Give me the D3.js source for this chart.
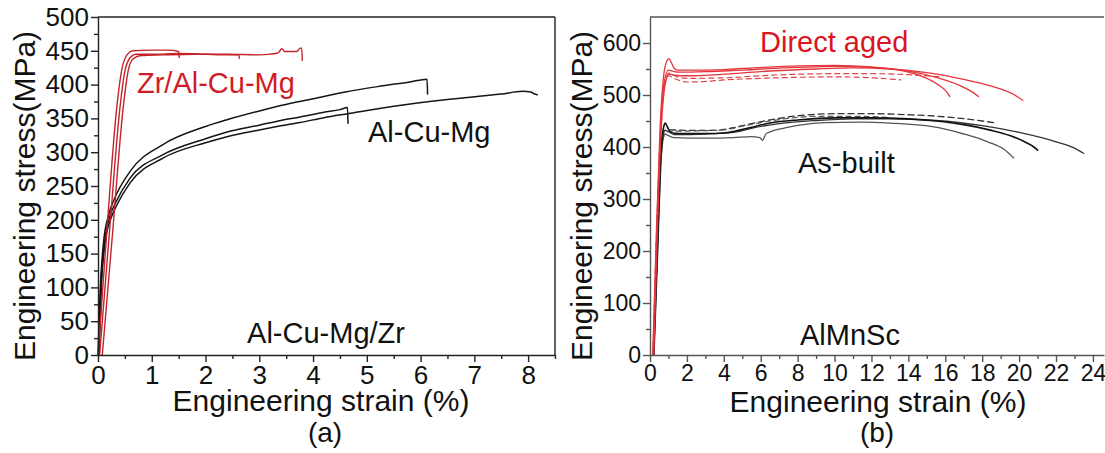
<!DOCTYPE html>
<html>
<head>
<meta charset="utf-8">
<script src="https://cdn.jsdelivr.net/npm/d3@7"></script>
<style>
  body { margin: 0; background: #fff; }
  svg { display: block; font-family: 'Liberation Sans', Arial, sans-serif; }
</style>
</head>
<body>
<svg width="1105" height="453"></svg>
<script>
// ---- panel (a): Al-Cu-Mg and Zr/Al-Cu-Mg, [strain %, stress MPa]
const aRed1 = [[0,0],[0.17,189],[0.35,367],[0.45,425],[0.55,445],[0.65,450],[1.0,451],[1.3,451],[1.5,449],[1.51,440]];
const aRed2 = [[0.03,0],[0.22,189],[0.41,367],[0.5,420],[0.6,440],[0.7,445],[1.0,445],[1.5,446],[2.0,445],[2.4,444],[2.62,444],[2.63,439]];
const aRed3 = [[0.08,0],[0.28,189],[0.47,367],[0.56,420],[0.65,438],[0.8,443],[1.2,444],[1.8,445],[2.4,445],[3.0,444],[3.2,445],[3.35,447],[3.42,453],[3.47,449],[3.7,449],[3.76,454],[3.79,454],[3.8,436]];
const aBlk1 = [[0,0],[0.04,95],[0.1,165],[0.2,208],[0.3,230],[0.6,272],[1.2,311],[2,338],[2.4,348],[3,361],[3.4,369],[4,379],[4.6,389],[5.2,397],[5.8,404],[6.12,408],[6.13,386]];
const aBlk2 = [[0.01,0],[0.05,95],[0.12,165],[0.22,205],[0.32,224],[0.6,262],[1.2,296],[2,320],[2.4,330],[3,340],[3.4,347],[3.76,352],[4.2,359],[4.5,363],[4.64,366],[4.65,343]];
const aBlk3 = [[0.02,0],[0.06,95],[0.13,165],[0.24,202],[0.34,220],[0.6,255],[1.2,291],[2,314],[2.4,323],[3,333],[3.4,339],[3.76,344],[4.2,351],[4.65,357],[5.5,368],[6.5,378],[7.5,386],[7.9,390],[8.05,389],[8.12,386],[8.17,385]];

const aXTicks = [0, 1, 2, 3, 4, 5, 6, 7, 8];
const aYTicks = [0, 50, 100, 150, 200, 250, 300, 350, 400, 450, 500];

// ---- panel (b): AlMnSc, as-built and direct aged
const bRed1 = [[0.15,0],[0.35,240],[0.55,440],[0.75,540],[0.92,566],[1.03,570],[1.15,563],[1.3,552],[1.5,548],[3,548],[5,551],[8,556],[10,557],[12,554],[13.5,548],[14.8,535],[15.6,520],[16.1,505],[16.25,497]];
const bRed2 = [[0.18,0],[0.38,240],[0.58,440],[0.8,530],[1.0,548],[1.2,546],[1.5,544],[3,545],[5,548],[8,553],[10,555],[12,553],[14,546],[15.5,534],[16.8,518],[17.5,505],[17.8,497]];
const bRed3 = [[0.2,0],[0.4,240],[0.6,430],[0.85,525],[1.05,540],[1.3,538],[2,537],[4,540],[6,545],[9,550],[11,552],[13,550],[15,543],[17,530],[18.5,517],[19.6,503],[20.2,490]];
const bRedDash1 = [[0.16,0],[0.36,240],[0.58,440],[0.8,525],[1.0,537],[1.3,532],[2,525],[3,526],[4,529],[6,532],[8,534],[10,535],[12,533],[13.6,529]];
const bRedDash2 = [[0.17,0],[0.37,240],[0.6,440],[0.85,530],[1.05,542],[1.4,536],[2,532],[4,533],[6,537],[8,540],[10,541],[12,541],[14,539],[15.8,535]];
const bBlk1 = [[0.2,0],[0.4,200],[0.6,380],[0.8,425],[1.0,422],[1.3,418],[3,417],[4.5,418],[5.5,420],[5.95,418],[6.1,413],[6.3,426],[7.5,438],[8.1,442],[9.5,447],[11.4,448],[13,446],[15.3,439],[17,425],[18.3,410],[19.2,395],[19.7,379]];
const bBlk2 = [[0.18,0],[0.38,200],[0.58,390],[0.75,440],[0.83,446],[0.95,438],[1.15,427],[2,426],[3,426],[4,427],[4.8,432],[5.5,438],[6.5,446],[8,452],[10,456],[12,456],[14,454],[15.5,450],[17,443],[18.5,432],[19.5,422],[20.3,410],[20.8,400],[21.0,394]];
const bBlk3 = [[0.22,0],[0.42,200],[0.62,385],[0.8,432],[1.0,430],[1.3,424],[3,425],[4.5,428],[5.5,436],[7,445],[9,451],[11,454],[13,454],[15.5,451],[18,441],[20,428],[22,410],[23.1,396],[23.5,388]];
const bBlkDash1 = [[0.2,0],[0.4,200],[0.6,390],[0.8,432],[1.0,433],[2,432],[3.5,432],[4.5,437],[5.5,445],[6.5,452],[8,460],[10,464],[12,464],[14,462],[16,458],[18,450],[18.8,446]];
const bBlkDash2 = [[0.21,0],[0.41,200],[0.61,385],[0.85,428],[1.1,430],[2.5,431],[4,433],[5,440],[6,447],[7.5,455],[9,459],[11,459],[13,457]];

const bXTicks = [0, 2, 4, 6, 8, 10, 12, 14, 16, 18, 20, 22, 24];
const bYTicks = [0, 100, 200, 300, 400, 500, 600];

const svg = d3.select('svg');

/**
 * Draws axes with major + minor ticks
 */
drawAxes = (g, x, y, opt) => {
	let x0 = x.range()[0], x1 = x.range()[1];
	let y0 = y.range()[0], y1 = y.range()[1];

	let xMajor = g.append('g')
		.attr('transform', 'translate(0,' + y0 + ')')
		.call(d3.axisBottom(x).tickValues(opt.xTicks).tickSize(7).tickSizeOuter(0).tickPadding(2));
	g.append('g')
		.attr('transform', 'translate(0,' + y0 + ')')
		.call(d3.axisBottom(x).tickValues(opt.xMinor).tickSize(4).tickFormat(''))
		.select('.domain').remove();

	let yMajor = g.append('g')
		.attr('transform', 'translate(' + x0 + ',0)')
		.call(d3.axisLeft(y).tickValues(opt.yTicks).tickSize(7).tickSizeOuter(0).tickPadding(2));
	g.append('g')
		.attr('transform', 'translate(' + x0 + ',0)')
		.call(d3.axisLeft(y).tickValues(opt.yMinor).tickSize(4).tickFormat(''))
		.select('.domain').remove();

	[xMajor, yMajor].forEach((a) => {
		a.selectAll('text').attr('fill', '#111').style('font-size', opt.fs + 'px').style('font-family', 'Liberation Sans, Arial, sans-serif');
	});
	xMajor.selectAll('text').attr('dy', '0.76em');
	g.selectAll('.domain, .tick line').attr('stroke', opt.axisColor).attr('stroke-width', 1.4);

	// frame
	g.append('line').attr('x1', x0).attr('x2', x1).attr('y1', y1).attr('y2', y1)
		.attr('stroke', opt.axisColor).attr('stroke-width', 1.6);
	if (opt.rightFrame) {
		g.append('line').attr('x1', x1).attr('x2', x1).attr('y1', y1).attr('y2', y0)
			.attr('stroke', opt.axisColor).attr('stroke-width', 1.4);
	}
};

drawCurve = (g, data, x, y, color, width, dash) => {
	let line = d3.line()
		.x((d) => x(d[0]))
		.y((d) => y(d[1]))
		.curve(d3.curveMonotoneX);
	g.append('path')
		.datum(data)
		.attr('fill', 'none')
		.attr('stroke', color)
		.attr('stroke-width', width)
		.attr('stroke-dasharray', dash || null)
		.attr('stroke-linejoin', 'round')
		.attr('stroke-linecap', 'round')
		.attr('d', line);
};

addText = (x, y, txt, size, color, anchor, rotate) => {
	let t = svg.append('text')
		.attr('font-size', size)
		.attr('fill', color)
		.attr('text-anchor', anchor || 'start')
		.text(txt);
	if (rotate) t.attr('transform', 'translate(' + x + ',' + y + ') rotate(-90)');
	else t.attr('x', x).attr('y', y);
};

// ---- panel (a)
let xa = d3.scaleLinear().domain([0, 8.5]).range([98, 555]);
let ya = d3.scaleLinear().domain([0, 500]).range([355, 17]);
let ga = svg.append('g');

[aBlk1, aBlk2, aBlk3].forEach((c) => drawCurve(ga, c, xa, ya, '#151515', 1.5));
[aRed1, aRed2, aRed3].forEach((c) => drawCurve(ga, c, xa, ya, '#c4232b', 1.4));

drawAxes(ga, xa, ya, {
	xTicks: aXTicks,
	xMinor: d3.range(0.5, 8.6, 1),
	yTicks: aYTicks,
	yMinor: d3.range(25, 500, 50),
	fs: 26,
	axisColor: '#222',
	rightFrame: true
});

addText(137, 93, 'Zr/Al-Cu-Mg', 29, '#d01c24');
addText(368, 142, 'Al-Cu-Mg', 29, '#111');
addText(326, 343, 'Al-Cu-Mg/Zr', 29, '#111', 'middle');
addText(35, 196, 'Engineering stress(MPa)', 30, '#111', 'middle', true);
addText(321, 411, 'Engineering strain (%)', 30, '#111', 'middle');
addText(325, 442, '(a)', 28, '#111', 'middle');

// ---- panel (b)
let xb = d3.scaleLinear().domain([0, 24.6]).range([650, 1104]);
let yb = d3.scaleLinear().domain([0, 650]).range([355, 17]);
let gb = svg.append('g');

drawCurve(gb, bBlkDash1, xb, yb, '#333', 1.3, '6,4');
drawCurve(gb, bBlkDash2, xb, yb, '#555', 1.2, '5,4');
drawCurve(gb, bBlk1, xb, yb, '#555', 1.3);
drawCurve(gb, bBlk3, xb, yb, '#333', 1.3);
drawCurve(gb, bBlk2, xb, yb, '#111', 1.6);
drawCurve(gb, bRedDash1, xb, yb, '#e0454a', 1.2, '5,4');
drawCurve(gb, bRedDash2, xb, yb, '#e0454a', 1.2, '5,4');
[bRed1, bRed2, bRed3].forEach((c) => drawCurve(gb, c, xb, yb, '#e4363c', 1.3));

drawAxes(gb, xb, yb, {
	xTicks: bXTicks,
	xMinor: d3.range(1, 25, 2),
	yTicks: bYTicks,
	yMinor: d3.range(50, 650, 100),
	fs: 23,
	axisColor: '#555',
	rightFrame: false
});

addText(760, 52, 'Direct aged', 29, '#d9161e');
addText(798, 173, 'As-built', 29, '#111');
addText(850, 345, 'AlMnSc', 29, '#111', 'middle');
addText(592, 196, 'Engineering stress(MPa)', 30, '#111', 'middle', true);
addText(878, 412, 'Engineering strain (%)', 30, '#111', 'middle');
addText(877, 442, '(b)', 28, '#111', 'middle');
</script>
</body>
</html>
